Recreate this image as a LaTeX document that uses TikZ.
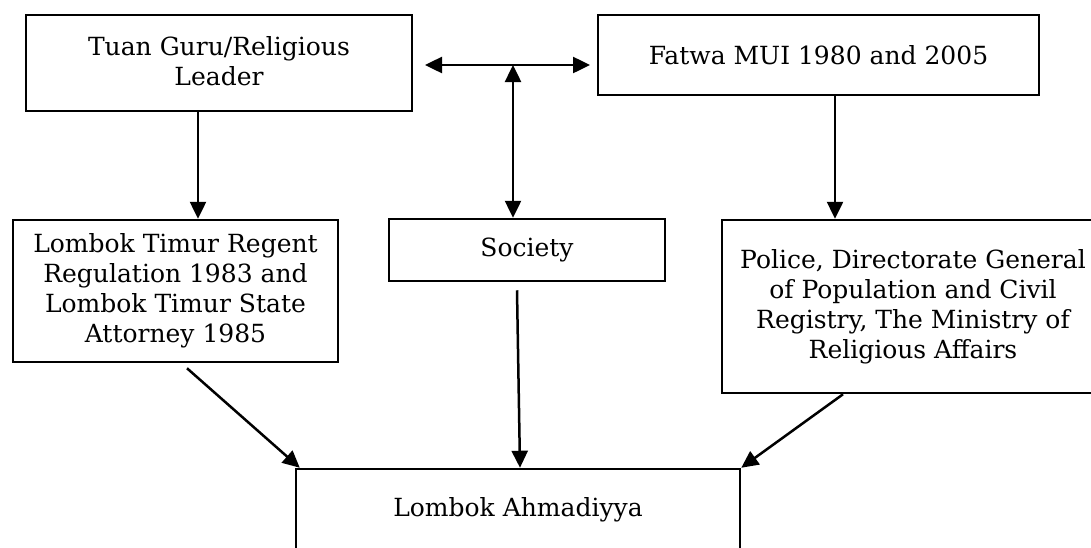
\documentclass[tikz,border=0pt]{standalone}
\usepackage{fontspec}
\setmainfont{DejaVu Serif}
\usetikzlibrary{arrows.meta}
\begin{document}
\begin{tikzpicture}[x=1pt,y=-1pt,
  box/.style={draw, line width=2.5pt, rectangle, inner sep=0pt, align=center,
    font=\fontsize{25}{30}\selectfont},
  arr/.style={line width=2.5pt, -{Triangle[length=17pt,width=16pt]}},
  arrboth/.style={line width=2.5pt, {Triangle[length=17pt,width=16pt]}-{Triangle[length=17pt,width=16pt]}}]
\useasboundingbox (0,0) rectangle (1091,547);
\clip (0,0) rectangle (1091,547);
% boxes
\node[box, minimum width=386pt, minimum height=96pt, text depth=5pt] (tg) at (219,63) {Tuan Guru/Religious\\Leader};
\node[box, minimum width=441pt, minimum height=80pt] (fw) at (818.5,55) {Fatwa MUI 1980 and 2005};
\node[box, minimum width=325pt, minimum height=142pt] (lt) at (175.5,291) {Lombok Timur Regent\\Regulation 1983 and\\Lombok Timur State\\Attorney 1985};
\node[box, minimum width=276pt, minimum height=62pt] (so) at (527,250) {Society};
\node[box, minimum width=382pt, minimum height=173pt] (po) at (913,306.5) {Police, Directorate General\\of Population and Civil\\Registry, The Ministry of\\Religious Affairs};
\node[box, minimum width=444pt, minimum height=111pt, text height=18pt, text depth=35pt] (la) at (518,524.5) {Lombok Ahmadiyya};
% connector points
\coordinate (hl) at (425,65);
\coordinate (hr) at (590,65);
\coordinate (hm) at (513,65);
% connectors
\draw[arrboth] (hl) -- (hr);
\draw[arrboth] (hm) -- (so.north -| hm);
\draw[arr] ([xshift=-21pt]tg.south) -- ([xshift=22.5pt]lt.north);
\draw[arr] ([xshift=16.5pt]fw.south) -- ([xshift=-78pt]po.north);
\draw[arr] ([xshift=11.5pt,yshift=-5pt]lt.south) -- ([xshift=5pt]la.north west);
\draw[arr] ([xshift=-10pt,yshift=-8pt]so.south) -- ([xshift=2pt]la.north);
\draw[arr] ([xshift=-70pt]po.south) -- (la.north east);
\end{tikzpicture}
\end{document}
